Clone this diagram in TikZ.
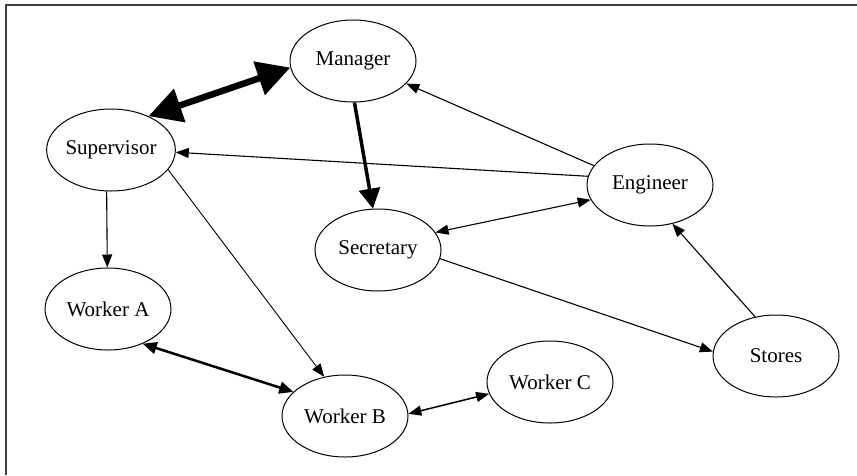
\documentclass[tikz,border=0pt]{standalone}
\usepackage{fontspec}
\setmainfont{Liberation Serif}
\usetikzlibrary{shapes.geometric,arrows.meta}
\begin{document}
\begin{tikzpicture}[x=1pt,y=-1pt,
  person/.style={ellipse,draw,line width=1pt,minimum width=126pt,minimum height=82pt,
    inner sep=0pt,font=\fontsize{21}{24}\selectfont},
  thin link/.style={line width=1.1pt,-{Triangle[length=13pt,width=10pt]}},
  thin both/.style={line width=1.1pt,{Triangle[length=13pt,width=10pt]}-{Triangle[length=13pt,width=10pt]}}]
  \useasboundingbox (0,0) rectangle (857,475);
  \fill[white] (0,0) rectangle (857,475);
  % frame edge along top and left
  \draw[line width=1.6pt,black!75] (6,475) -- (6,5) -- (857,5);

  \node[person] (man) at (353,61) {Manager};
  \node[person] (sup) at (111,150) {Supervisor};
  \node[person] (eng) at (650,185) {Engineer};
  \node[person] (sec) at (378,250) {Secretary};
  \node[person] (wa)  at (108,309) {Worker A};
  \node[person] (wb)  at (345,416) {Worker B};
  \node[person] (wc)  at (550,382) {Worker C};
  \node[person] (sto) at (776,356) {Stores};

  % heavy two-way link between supervisor and manager
  \draw[line width=6.5pt,{Triangle[length=33pt,width=34pt]}-{Triangle[length=33pt,width=34pt]}]
    (sup.42) -- (man.186);
  \draw[line width=3.5pt,-{Triangle[length=20pt,width=21pt]}] (man.-88) -- (sec.97);

  \draw[thin link] (eng.161.6) -- (man.-23.5);
  \draw[thin link] (eng.172.6) -- (sup.-2);
  \draw[thin both] (sec.17) -- (eng.194);
  \draw[thin link] (sec.-8) -- (sto.176);
  \draw[thin link] (sto.118) -- (eng.-60.6);
  \draw[thin link] (sup.264.6) -- (wa.91);
  \draw[line width=0.9pt,-{Triangle[length=13pt,width=10pt]}] (sup.-19) -- (wb.118);

  \draw[line width=2.5pt,{Triangle[length=14pt,width=12pt]}-{Triangle[length=14pt,width=12pt]}]
    (wa.-45) -- (wb.155.6);
  \draw[line width=1.5pt,{Triangle[length=13pt,width=10pt]}-{Triangle[length=13pt,width=10pt]}]
    (wb.2) -- (wc.191);
\end{tikzpicture}
\end{document}
